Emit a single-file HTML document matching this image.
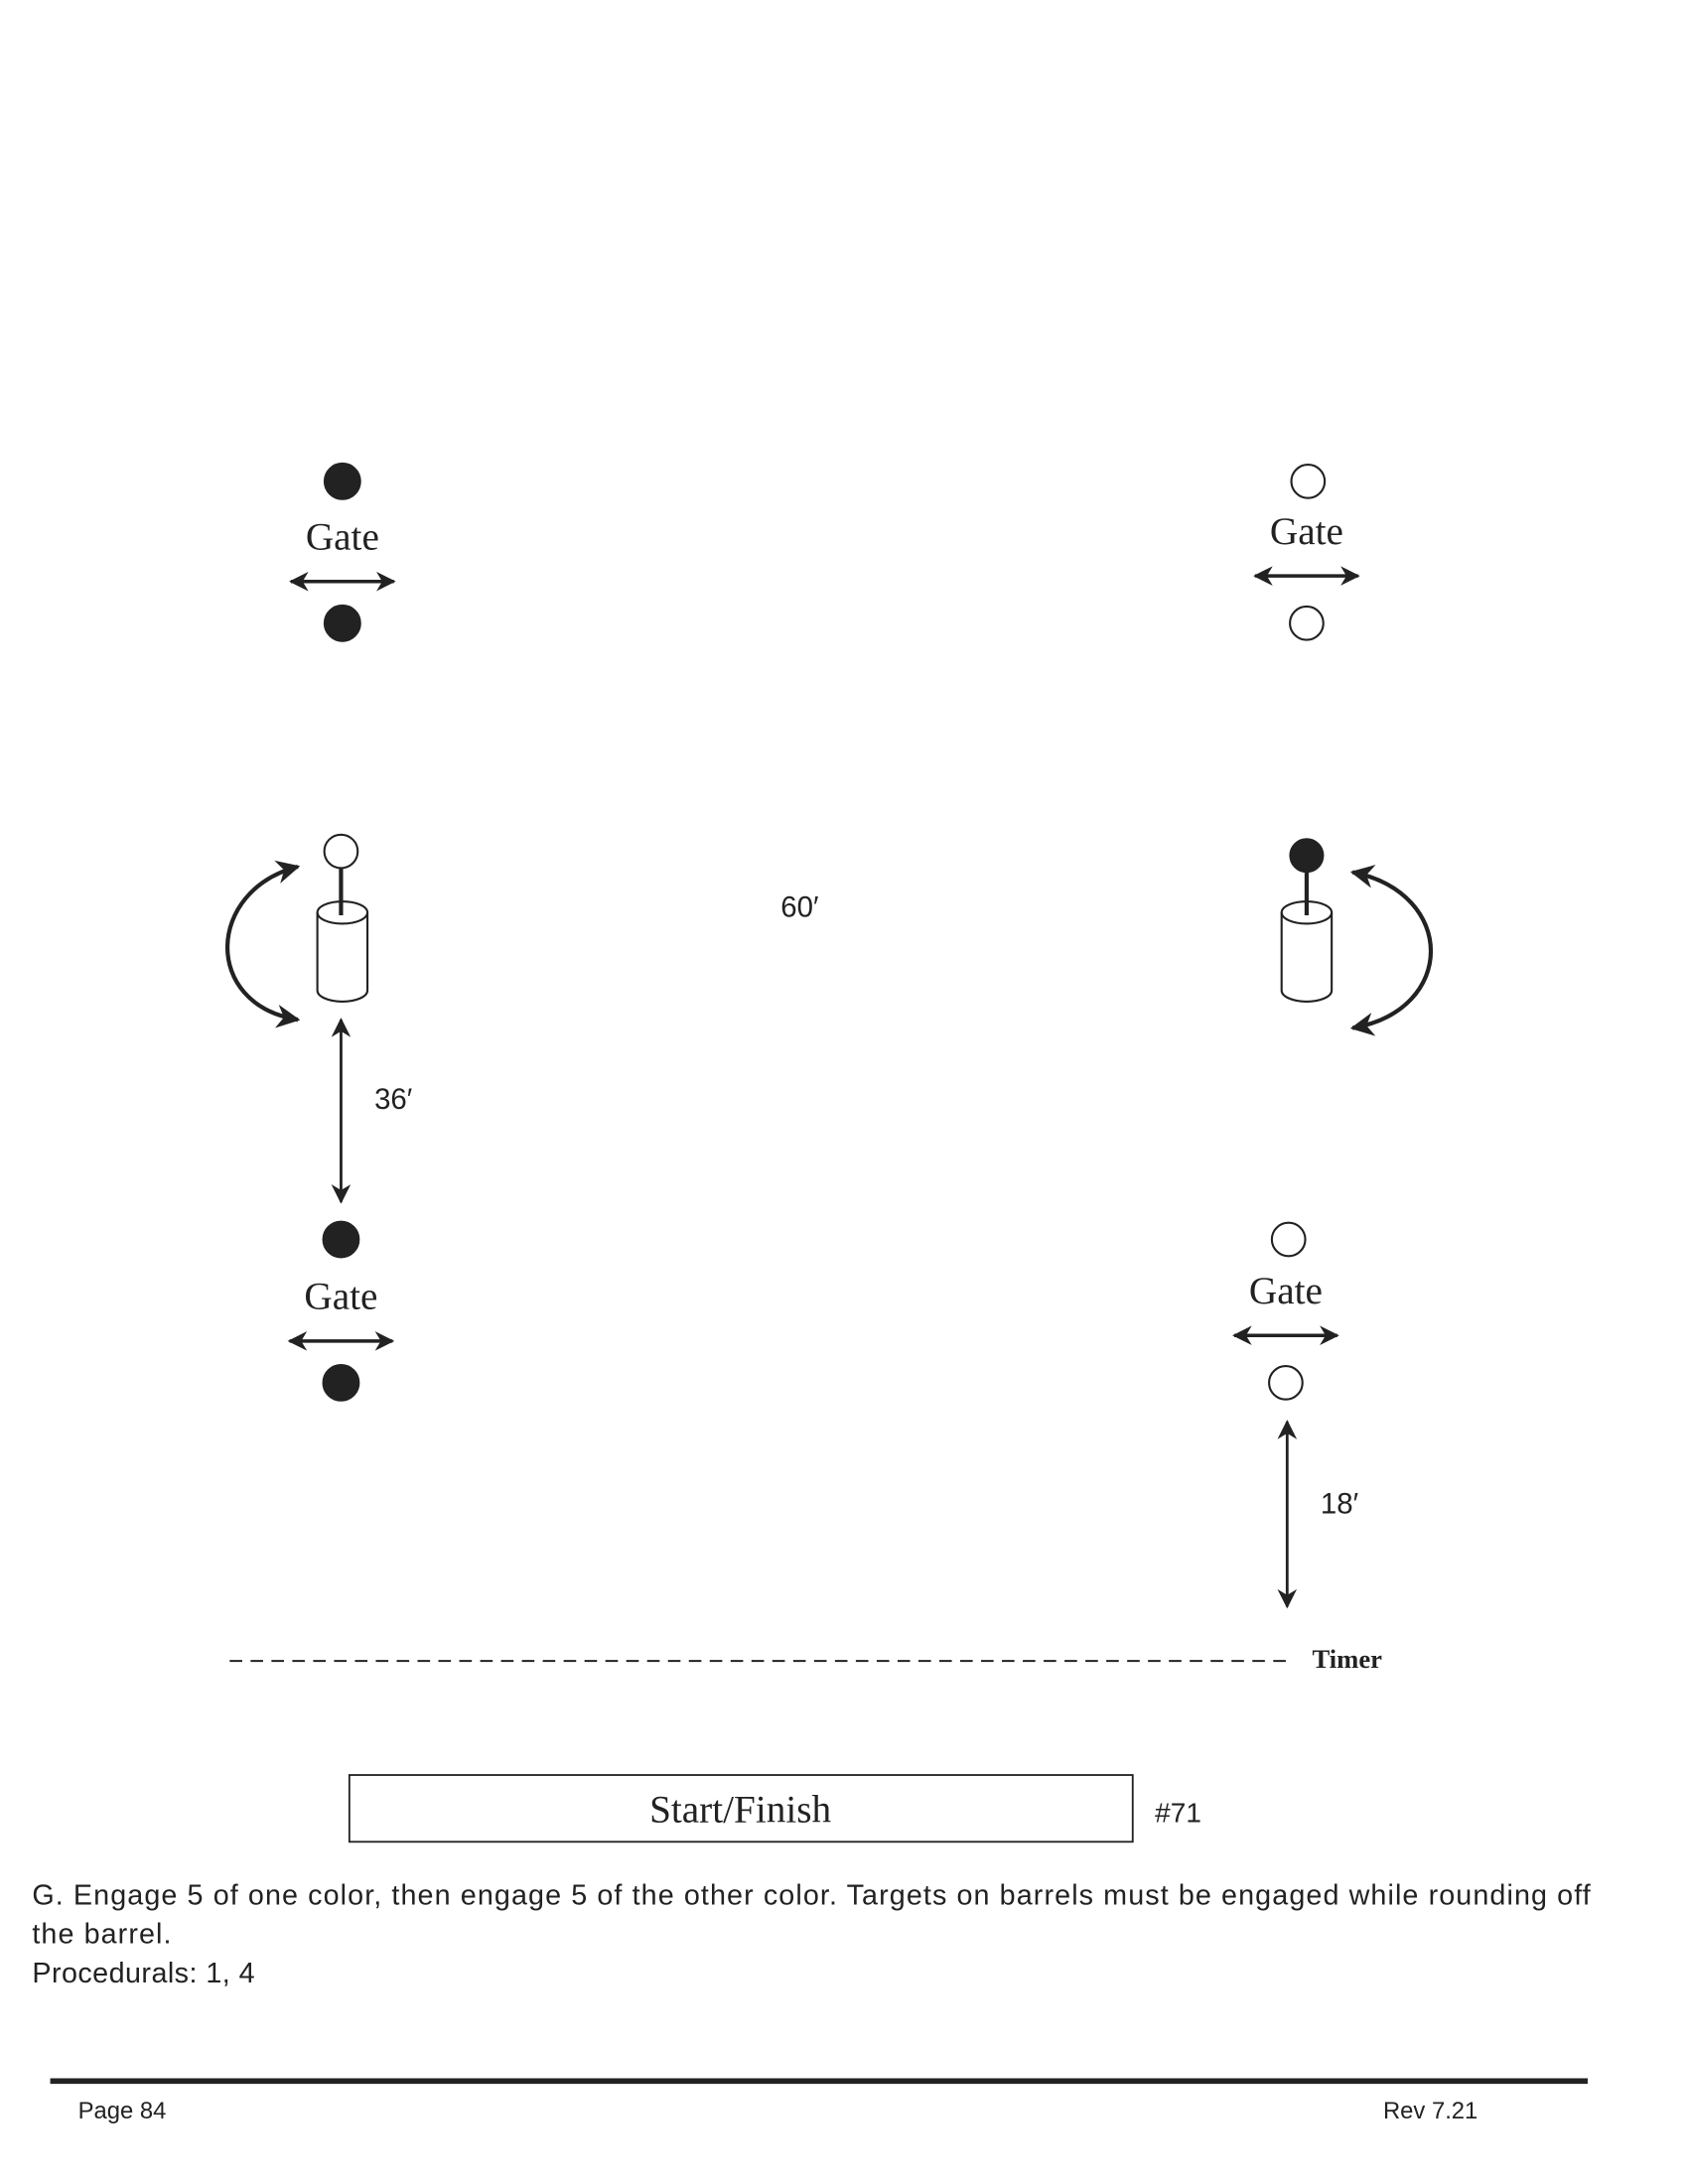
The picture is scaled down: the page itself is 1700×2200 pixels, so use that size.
<!DOCTYPE html>
<html><head><style>
html,body{margin:0;padding:0;background:#fff;}
svg{display:block;}
.g{font-family:"Liberation Serif",serif;font-size:28px;}
.s{font-family:"Liberation Sans",sans-serif;}
</style></head><body>
<svg width="1700" height="2200" viewBox="0 0 1213 1570" xmlns="http://www.w3.org/2000/svg">
<defs>
<marker id="a" viewBox="0 0 10 10" refX="9" refY="5" markerWidth="14" markerHeight="14" markerUnits="userSpaceOnUse" orient="auto-start-reverse">
<path d="M0,0 L10,5 L0,10 L3,5 z" fill="#222"/></marker>
<marker id="b" viewBox="0 0 10 10" refX="9" refY="5" markerWidth="17" markerHeight="17" markerUnits="userSpaceOnUse" orient="auto-start-reverse">
<path d="M0,0 L10,5 L0,10 L3,5 z" fill="#222"/></marker>
</defs>
<g stroke="#222" fill="none">
<circle cx="246" cy="346" r="13" fill="#222"/>
<circle cx="246" cy="448" r="13" fill="#222"/>
<line x1="209" y1="418" x2="283" y2="418" stroke-width="2.5" marker-start="url(#a)" marker-end="url(#a)"/>
<circle cx="940" cy="346" r="12" stroke-width="1.5"/>
<circle cx="939" cy="448" r="12" stroke-width="1.5"/>
<line x1="902" y1="414" x2="976" y2="414" stroke-width="2.5" marker-start="url(#a)" marker-end="url(#a)"/>
<circle cx="245" cy="612" r="12" stroke-width="1.5"/>
<path d="M228,656 L228,712 A18,8 0 0 0 264,712 L264,656" stroke-width="1.5" fill="#fff"/>
<ellipse cx="246" cy="656" rx="18" ry="8" stroke-width="1.5"/>
<line x1="245" y1="624" x2="245" y2="658" stroke-width="3"/>
<path d="M214,623 C148,640 145,722 214,733" stroke-width="3" marker-start="url(#b)" marker-end="url(#b)"/>
<circle cx="939" cy="615" r="12" fill="#222"/>
<path d="M921,656 L921,712 A18,8 0 0 0 957,712 L957,656" stroke-width="1.5" fill="#fff"/>
<ellipse cx="939" cy="656" rx="18" ry="8" stroke-width="1.5"/>
<line x1="939" y1="627" x2="939" y2="658" stroke-width="3"/>
<path d="M972,627 C1047,642 1047,726 972,739" stroke-width="3" marker-start="url(#b)" marker-end="url(#b)"/>
<line x1="245" y1="733" x2="245" y2="864" stroke-width="2" marker-start="url(#a)" marker-end="url(#a)"/>
<circle cx="245" cy="891" r="13" fill="#222"/>
<circle cx="245" cy="994" r="13" fill="#222"/>
<line x1="208" y1="964" x2="282" y2="964" stroke-width="2.5" marker-start="url(#a)" marker-end="url(#a)"/>
<circle cx="926" cy="891" r="12" stroke-width="1.5"/>
<circle cx="924" cy="994" r="12" stroke-width="1.5"/>
<line x1="887" y1="960" x2="961" y2="960" stroke-width="2.5" marker-start="url(#a)" marker-end="url(#a)"/>
<line x1="925" y1="1022" x2="925" y2="1155" stroke-width="2" marker-start="url(#a)" marker-end="url(#a)"/>
<line x1="165" y1="1194" x2="930" y2="1194" stroke-width="1.5" stroke-dasharray="9,6"/>
<rect x="251" y="1276" width="563" height="48" stroke-width="1.3"/>
<line x1="36" y1="1496" x2="1141" y2="1496" stroke-width="4"/>
</g>
<g fill="#222">
<text class="g" x="246" y="395" text-anchor="middle">Gate</text>
<text class="g" x="939" y="391" text-anchor="middle">Gate</text>
<text class="g" x="245" y="941" text-anchor="middle">Gate</text>
<text class="g" x="924" y="937" text-anchor="middle">Gate</text>
<text class="s" x="561" y="659" font-size="21">60′</text>
<text class="s" x="269" y="797" font-size="21">36′</text>
<text class="s" x="949" y="1088" font-size="21">18′</text>
<text x="943" y="1199" font-family="Liberation Serif,serif" font-weight="bold" font-size="19">Timer</text>
<text class="g" x="532" y="1310" text-anchor="middle" font-size="29">Start/Finish</text>
<text class="s" x="830" y="1310" font-size="20">#71</text>
<text class="s" x="23" y="1369" font-size="20.5" textLength="1120" lengthAdjust="spacing">G. Engage 5 of one color, then engage 5 of the other color. Targets on barrels must be engaged while rounding off</text>
<text class="s" x="23" y="1397" font-size="20.5" textLength="100">the barrel.</text>
<text class="s" x="23" y="1425" font-size="20.5" textLength="160">Procedurals: 1, 4</text>
<text class="s" x="56" y="1523" font-size="17">Page 84</text>
<text class="s" x="994" y="1523" font-size="17">Rev 7.21</text>
</g>
</svg>
</body></html>
